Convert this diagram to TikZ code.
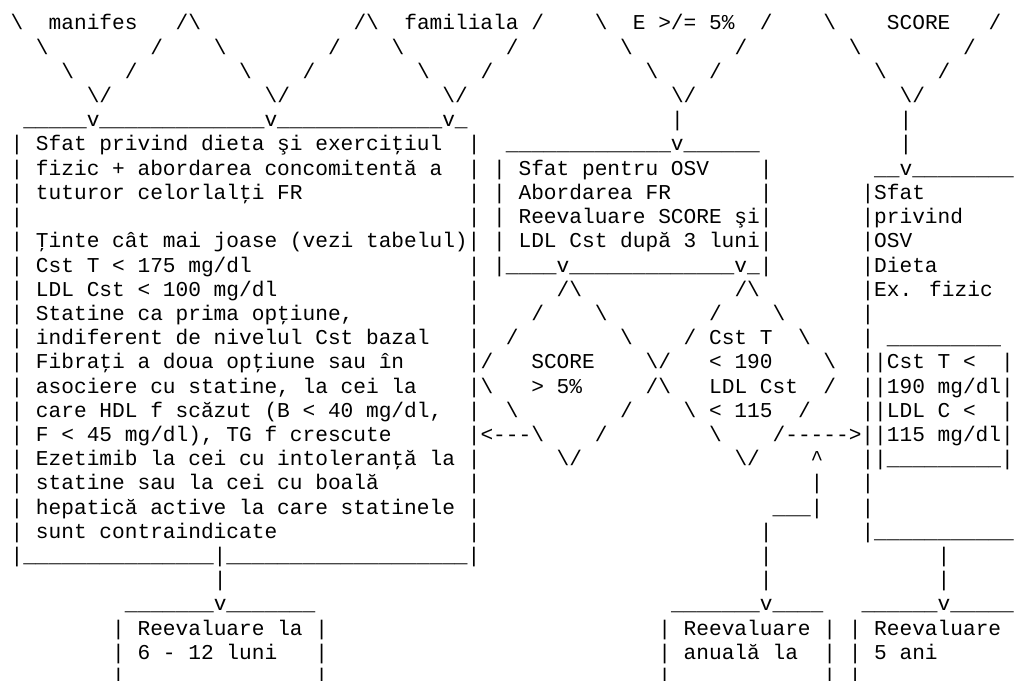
\documentclass[tikz,border=0pt]{standalone}
\usepackage{fontspec}
\newfontfamily\asciifont{Liberation Mono}[WordSpace={1,0,0}]
% character grid: column width and line pitch (pt)
\newcommand\cw{9.525}
\newcommand\lh{18.15}
% n underscores
\newcommand\us[1]{\foreach\usidx in {1,...,#1}{\_}}
\newcommand\bs{\textbackslash}
\newcommand\dsh{-\kern0pt}
% place a text run at row #1, column #2
\newcommand\tx[3]{\node[cell] (r#1c#2) at ({7.95+\cw*#2},{-22.5-\lh*(#1-1)}) {#3};}
\begin{document}
\begin{tikzpicture}[x=1pt,y=1pt,
  cell/.style={anchor=base west, inner sep=0pt, outer sep=0pt,
    font=\asciifont\fontsize{15.87pt}{18.15pt}\selectfont}]
\fill[white] (0,0) rectangle (765,-510.75);
\useasboundingbox (0,0) rectangle (765,-510.75);

% funnels at the top
\tx{1}{0}{\bs}\tx{1}{3}{manifes}\tx{1}{13}{/\bs}\tx{1}{27}{/\bs}
\tx{1}{31}{familiala /}\tx{1}{46}{\bs}\tx{1}{49}{E >/= 5\%}\tx{1}{59}{/}
\tx{1}{64}{\bs}\tx{1}{69}{SCORE}\tx{1}{77}{/}

\tx{2}{2}{\bs}\tx{2}{11}{/}\tx{2}{16}{\bs}\tx{2}{25}{/}\tx{2}{30}{\bs}
\tx{2}{39}{/}\tx{2}{48}{\bs}\tx{2}{57}{/}\tx{2}{66}{\bs}\tx{2}{75}{/}

\tx{3}{4}{\bs}\tx{3}{9}{/}\tx{3}{18}{\bs}\tx{3}{23}{/}\tx{3}{32}{\bs}
\tx{3}{37}{/}\tx{3}{50}{\bs}\tx{3}{55}{/}\tx{3}{68}{\bs}\tx{3}{73}{/}

\tx{4}{6}{\bs/}\tx{4}{20}{\bs/}\tx{4}{34}{\bs/}\tx{4}{52}{\bs/}\tx{4}{70}{\bs/}

\tx{5}{1}{\us{5}v\us{13}v\us{13}v\_}\tx{5}{52}{|}\tx{5}{70}{|}

% left box
\tx{6}{0}{| Sfat privind dieta şi exerciţiul}\tx{6}{36}{|}
\tx{6}{39}{\us{13}v\us{6}}\tx{6}{70}{|}

\tx{7}{0}{| fizic + abordarea concomitentă a}\tx{7}{36}{|}
\tx{7}{38}{| Sfat pentru OSV}\tx{7}{59}{|}\tx{7}{68}{\_\_v\us{8}}

\tx{8}{0}{| tuturor celorlalţi FR}\tx{8}{36}{|}
\tx{8}{38}{| Abordarea FR}\tx{8}{59}{|}\tx{8}{67}{|Sfat}

\tx{9}{0}{|}\tx{9}{36}{|}\tx{9}{38}{| Reevaluare SCORE şi|}\tx{9}{67}{|privind}

\tx{10}{0}{| Ţinte cât mai joase (vezi tabelul)|}
\tx{10}{38}{| LDL Cst după 3 luni|}\tx{10}{67}{|OSV}

\tx{11}{0}{| Cst T < 175 mg/dl}\tx{11}{36}{|}
\tx{11}{38}{|\us{4}v\us{13}v\_|}\tx{11}{67}{|Dieta}

\tx{12}{0}{| LDL Cst < 100 mg/dl}\tx{12}{36}{|}
\tx{12}{43}{/\bs}\tx{12}{57}{/\bs}\tx{12}{67}{|Ex. fizic}

\tx{13}{0}{| Statine ca prima opţiune,}\tx{13}{36}{|}
\tx{13}{41}{/}\tx{13}{46}{\bs}\tx{13}{55}{/}\tx{13}{60}{\bs}\tx{13}{67}{|}

\tx{14}{0}{| indiferent de nivelul Cst bazal}\tx{14}{36}{|}
\tx{14}{39}{/}\tx{14}{48}{\bs}\tx{14}{53}{/ Cst T}\tx{14}{62}{\bs}
\tx{14}{67}{|}\tx{14}{69}{\us{9}}

\tx{15}{0}{| Fibraţi a doua opţiune sau în}\tx{15}{36}{|/}
\tx{15}{41}{SCORE}\tx{15}{50}{\bs/}\tx{15}{55}{< 190}\tx{15}{64}{\bs}
\tx{15}{67}{||Cst T <}\tx{15}{78}{|}

\tx{16}{0}{| asociere cu statine, la cei la}\tx{16}{36}{|\bs}
\tx{16}{41}{> 5\%}\tx{16}{50}{/\bs}\tx{16}{55}{LDL Cst}\tx{16}{64}{/}
\tx{16}{67}{||190 mg/dl|}

\tx{17}{0}{| care HDL f scăzut (B < 40 mg/dl,}\tx{17}{36}{|}
\tx{17}{39}{\bs}\tx{17}{48}{/}\tx{17}{53}{\bs{} < 115}\tx{17}{62}{/}
\tx{17}{67}{||LDL C <}\tx{17}{78}{|}

\tx{18}{0}{| F < 45 mg/dl), TG f crescute}
\tx{18}{36}{|<\dsh\dsh\dsh\bs}\tx{18}{46}{/}\tx{18}{55}{\bs}
\tx{18}{60}{/\dsh\dsh\dsh\dsh\dsh>||115 mg/dl|}

\tx{19}{0}{| Ezetimib la cei cu intoleranţă la}\tx{19}{36}{|}
\tx{19}{43}{\bs/}\tx{19}{57}{\bs/}\tx{19}{63}{\textasciicircum}
\tx{19}{67}{||\us{9}|}

\tx{20}{0}{| statine sau la cei cu boală}\tx{20}{36}{|}
\tx{20}{63}{|}\tx{20}{67}{|}

\tx{21}{0}{| hepatică active la care statinele}\tx{21}{36}{|}
\tx{21}{60}{\_\_\_|}\tx{21}{67}{|}

\tx{22}{0}{| sunt contraindicate}\tx{22}{36}{|}
\tx{22}{59}{|}\tx{22}{67}{|\us{11}}

\tx{23}{0}{|\us{15}|\us{19}|}\tx{23}{59}{|}\tx{23}{73}{|}

\tx{24}{16}{|}\tx{24}{59}{|}\tx{24}{73}{|}

% follow-up boxes
\tx{25}{9}{\us{7}v\us{7}}\tx{25}{52}{\us{7}v\us{4}}\tx{25}{67}{\us{6}v\us{5}}

\tx{26}{8}{| Reevaluare la |}\tx{26}{51}{| Reevaluare |}\tx{26}{66}{| Reevaluare}

\tx{27}{8}{| 6 - 12 luni}\tx{27}{24}{|}
\tx{27}{51}{| anuală la}\tx{27}{64}{|}\tx{27}{66}{| 5 ani}

\tx{28}{8}{|}\tx{28}{24}{|}\tx{28}{51}{|}\tx{28}{64}{|}\tx{28}{66}{|}
\end{tikzpicture}
\end{document}
